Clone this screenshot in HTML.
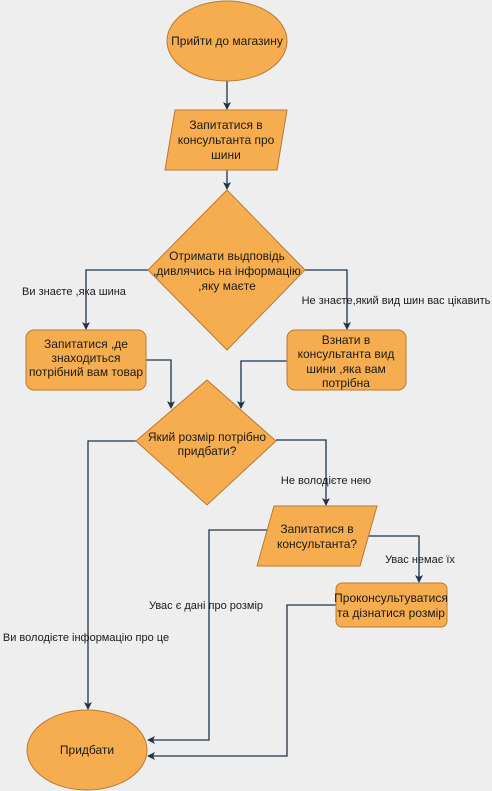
<!DOCTYPE html>
<html><head><meta charset="utf-8"><style>
html,body{margin:0;padding:0;background:#eeeeee;}
svg{display:block;}
text{font-family:"Liberation Sans",sans-serif;font-size:12px;fill:#1a1a1a;}
.s{fill:#f5ad4f;stroke:#b87a30;stroke-width:1;}
.l{fill:none;stroke:#1f3447;stroke-width:1.3;}
.lb{font-size:11px;}
</style></head><body>
<svg width="492" height="791" viewBox="0 0 492 791" xmlns="http://www.w3.org/2000/svg">
<defs><marker id="a" markerWidth="8" markerHeight="8" refX="7" refY="4" orient="auto" markerUnits="userSpaceOnUse"><path d="M0,0 L8,4 L0,8 L2,4 Z" fill="#1f3447"/></marker></defs>
<rect width="492" height="791" fill="#eeeeee"/>
<path class="l" d="M227,81 V109" marker-end="url(#a)"/>
<path class="l" d="M227,170 V189" marker-end="url(#a)"/>
<path class="l" d="M148,270 H86 V329" marker-end="url(#a)"/>
<path class="l" d="M305,270 H347 V329" marker-end="url(#a)"/>
<path class="l" d="M146,360 H171 V408" marker-end="url(#a)"/>
<path class="l" d="M287,361 H241 V408" marker-end="url(#a)"/>
<path class="l" d="M136,441 H88 V709" marker-end="url(#a)"/>
<path class="l" d="M276,440 H326 V505" marker-end="url(#a)"/>
<path class="l" d="M268,530 H209 V740 H148" marker-end="url(#a)"/>
<path class="l" d="M365,536 H419 V582" marker-end="url(#a)"/>
<path class="l" d="M336,605 H287 V756 H148" marker-end="url(#a)"/>
<ellipse class="s" cx="227" cy="41" rx="60" ry="40"/>
<text x="227" y="45" text-anchor="middle">Прийти до магазину</text>
<polygon class="s" points="175,110 287,110 277,170 165,170"/>
<text x="226" y="129" text-anchor="middle">Запитатися в</text>
<text x="226" y="144" text-anchor="middle">консультанта про</text>
<text x="226" y="159" text-anchor="middle">шини</text>
<polygon class="s" points="227,190 305,270 227,350 148,270"/>
<text x="227" y="260" text-anchor="middle">Отримати выдповідь</text>
<text x="227" y="275" text-anchor="middle">,дивлячись на інформацію</text>
<text x="227" y="290" text-anchor="middle">,яку маєте</text>
<rect class="s" x="26" y="330" width="120" height="60" rx="8"/>
<text x="86" y="348" text-anchor="middle">Запитатися ,де</text>
<text x="86" y="362" text-anchor="middle">знаходиться</text>
<text x="86" y="376" text-anchor="middle">потрібний вам товар</text>
<rect class="s" x="287" y="330" width="119" height="60" rx="8"/>
<text x="346" y="344" text-anchor="middle">Взнати в</text>
<text x="346" y="358" text-anchor="middle">консультанта вид</text>
<text x="346" y="373" text-anchor="middle">шини ,яка вам</text>
<text x="346" y="387" text-anchor="middle">потрібна</text>
<polygon class="s" points="207,380 276,441 207,505 136,441"/>
<text x="207" y="441" text-anchor="middle">Який розмір потрібно</text>
<text x="207" y="455" text-anchor="middle">придбати?</text>
<polygon class="s" points="274,506 377,506 360,566 257,566"/>
<text x="317" y="533" text-anchor="middle">Запитатися в</text>
<text x="317" y="548" text-anchor="middle">консультанта?</text>
<rect class="s" x="336" y="583" width="111" height="44" rx="6"/>
<text x="391" y="602" text-anchor="middle">Проконсультуватися</text>
<text x="391" y="617" text-anchor="middle">та дізнатися розмір</text>
<ellipse class="s" cx="87" cy="750" rx="60" ry="40"/>
<text x="87" y="754" text-anchor="middle">Придбати</text>
<text class="lb" x="74" y="295" text-anchor="middle">Ви знаєте ,яка шина</text>
<text class="lb" x="396" y="304" text-anchor="middle">Не знаєте,який вид шин вас цікавить</text>
<text class="lb" x="326" y="484" text-anchor="middle">Не володієте нею</text>
<text class="lb" x="420" y="563" text-anchor="middle">Увас немає їх</text>
<text class="lb" x="206" y="609" text-anchor="middle">Увас є дані про розмір</text>
<text class="lb" x="86" y="641" text-anchor="middle">Ви володієте інформацію про це</text>
</svg>
</body></html>
